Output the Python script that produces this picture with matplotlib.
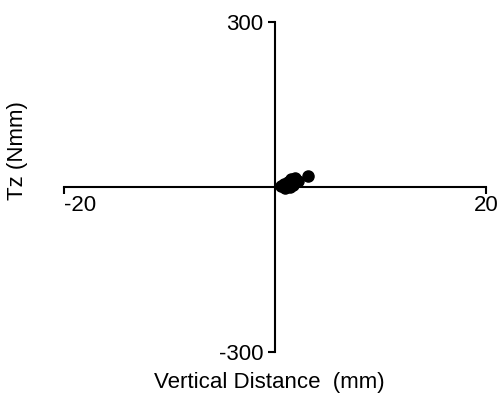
import matplotlib
matplotlib.use('Agg')
import matplotlib.pyplot as plt

plt.rcParams['font.family'] = ['Liberation Sans', 'DejaVu Sans']

# data
vertical_distance = [0.6, 0.9, 1.2, 1.5, 1.9, 2.2, 1.0, 1.7, 1.4, 3.1]
tz = [2, 6, 10, 14, 16, 12, -2, 4, 0, 20]

x_ticks = [-20, 20]
y_ticks = [-300, 300]

fig = plt.figure(figsize=(5.04, 4.09), dpi=100)
ax = fig.add_axes([0.127, 0.139, 0.837, 0.807])

ax.plot(vertical_distance, tz, 'o', color='black', markersize=8)

ax.set_xlim(-20, 20)
ax.set_ylim(-300, 300)

ax.spines['left'].set_position(('data', 0))
ax.spines['bottom'].set_position(('data', 0))
ax.spines['right'].set_visible(False)
ax.spines['top'].set_visible(False)
ax.spines['left'].set_linewidth(1.5)
ax.spines['bottom'].set_linewidth(1.5)

ax.set_xticks(x_ticks)
ax.set_xticklabels(['-20', '20'], fontsize=16)
ax.set_yticks(y_ticks)
ax.set_yticklabels(['-300', '300'], fontsize=16)
ax.tick_params(direction='out', length=5, width=1.5)
ax.tick_params(axis='x', pad=1)
ax.get_xticklabels()[0].set_ha('left')

fig.text(0.535, 0.065, 'Vertical Distance  (mm)', ha='center', va='center', fontsize=16)
fig.text(0.035, 0.633, 'Tz (Nmm)', ha='center', va='center', rotation=90, fontsize=16)

fig.savefig('out.png', dpi=100)
